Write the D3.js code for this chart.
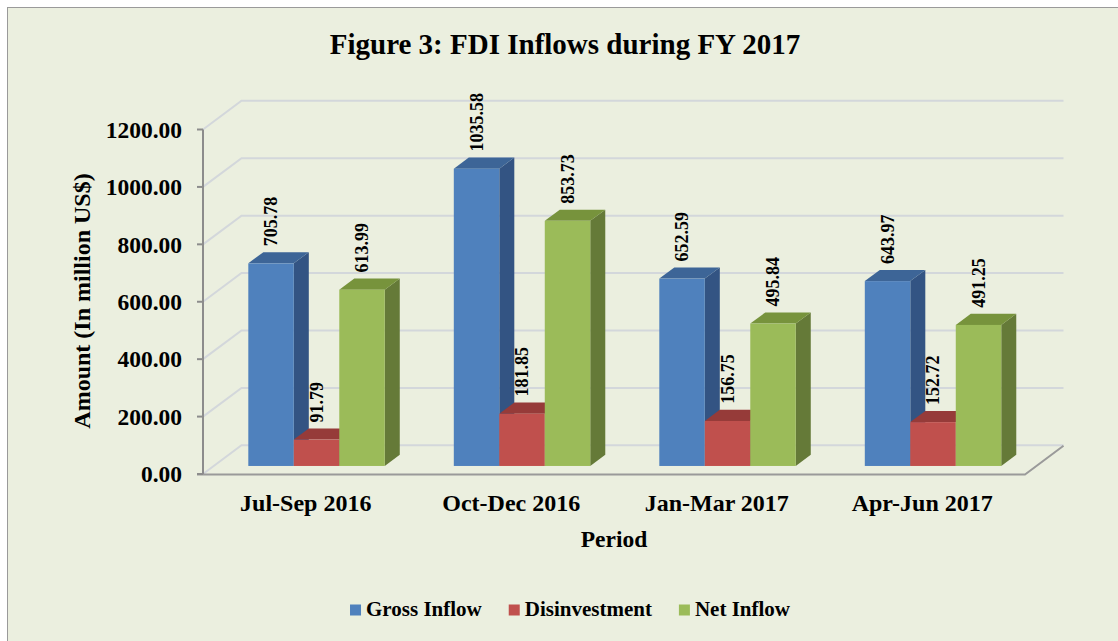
<!DOCTYPE html>
<html>
<head>
    <title>FDI Inflows during FY 2017</title>
    <script src="https://d3js.org/d3.v7.min.js"></script>
    <style>
        body {
            margin: 0;
            background: #ffffff;
        }
        svg text {
            font-family: "Liberation Serif", "Times New Roman", serif;
            font-weight: bold;
            fill: #000;
        }
    </style>
</head>
<body>
    <div id="chart"></div>
    <script>
        // Data
        const categories = ["Jul-Sep 2016", "Oct-Dec 2016", "Jan-Mar 2017", "Apr-Jun 2017"];
        const seriesNames = ["Gross Inflow", "Disinvestment", "Net Inflow"];
        const grossInflow = [705.78, 1035.58, 652.59, 643.97];
        const disinvestment = [91.79, 181.85, 156.75, 152.72];
        const netInflow = [613.99, 853.73, 495.84, 491.25];
        const yTicks = [0, 200, 400, 600, 800, 1000, 1200];

        const seriesValues = [grossInflow, disinvestment, netInflow];
        // front, top, side shades per series
        const shades = [
            { front: "#4f81bd", top: "#3d6597", side: "#335483" },
            { front: "#c0504d", top: "#963b39", side: "#7f3230" },
            { front: "#9bbb59", top: "#77933c", side: "#657a38" }
        ];

        const W = 1118, H = 641;
        const svg = d3.select("#chart")
            .append("svg")
            .attr("width", W)
            .attr("height", H);

        // background + frame (frame runs off the right/bottom edge)
        svg.append("rect")
            .attr("x", 0).attr("y", 0).attr("width", W).attr("height", H)
            .attr("fill", "#ffffff");
        svg.append("rect")
            .attr("x", 7.5).attr("y", 7.5).attr("width", W + 20).attr("height", H + 20)
            .attr("fill", "#ebefdf")
            .attr("stroke", "#9a9a9a")
            .attr("stroke-width", 1);

        // plot geometry (oblique 3D)
        const left = 203, right = 1025;
        const depthX = 38.5, depthY = -28.7;
        const y = d3.scaleLinear().domain([0, 1200]).range([474, 129.5]);

        const x = d3.scaleBand()
            .domain(categories)
            .range([left, right])
            .paddingInner(0.336)
            .paddingOuter(0.168);
        const xs = d3.scaleBand()
            .domain(seriesNames)
            .range([0, x.bandwidth()]);

        // bars sit between these depth fractions
        const d0 = 0.28, d1 = 0.67;

        // gridlines on side and back walls
        const grid = svg.append("g");
        yTicks.forEach(t => {
            const y0 = y(t);
            grid.append("polyline")
                .attr("points", [
                    [left, y0],
                    [left + depthX, y0 + depthY],
                    [right + depthX, y0 + depthY]
                ].map(p => p.join(",")).join(" "))
                .attr("fill", "none")
                .attr("stroke", "#d3d7db")
                .attr("stroke-width", 2);
        });

        // floor edges
        svg.append("polyline")
            .attr("points", [
                [left - 6, y(0) + 0.5],
                [right, y(0) + 0.5],
                [right + depthX, y(0) + 0.5 + depthY]
            ].map(p => p.join(",")).join(" "))
            .attr("fill", "none")
            .attr("stroke", "#9a9a9a")
            .attr("stroke-width", 2);

        // y axis
        svg.append("line")
            .attr("x1", left).attr("x2", left)
            .attr("y1", y(1200)).attr("y2", y(0))
            .attr("stroke", "#8c8c8c")
            .attr("stroke-width", 2);

        const yAxis = svg.append("g");
        yTicks.forEach(t => {
            yAxis.append("line")
                .attr("x1", left - 6).attr("x2", left)
                .attr("y1", y(t)).attr("y2", y(t))
                .attr("stroke", "#8c8c8c")
                .attr("stroke-width", 2);
            yAxis.append("text")
                .attr("x", 182)
                .attr("y", y(t))
                .attr("dy", "0.35em")
                .attr("text-anchor", "end")
                .style("font-size", "23.5px")
                .text(d3.format(".2f")(t));
        });

        // bars
        const bars = svg.append("g");
        const labels = svg.append("g");
        categories.forEach((cat, ci) => {
            seriesNames.forEach((s, si) => {
                const v = seriesValues[si][ci];
                const c = shades[si];
                const fx0 = x(cat) + xs(s) + d0 * depthX;
                const fx1 = fx0 + xs.bandwidth();
                const fyb = y(0) + d0 * depthY;
                const fyt = y(v) + d0 * depthY;
                const ddx = (d1 - d0) * depthX, ddy = (d1 - d0) * depthY;

                // side face
                bars.append("polygon")
                    .attr("points", [
                        [fx1, fyb], [fx1, fyt], [fx1 + ddx, fyt + ddy], [fx1 + ddx, fyb + ddy]
                    ].map(p => p.join(",")).join(" "))
                    .attr("fill", c.side);
                // top face
                bars.append("polygon")
                    .attr("points", [
                        [fx0, fyt], [fx1, fyt], [fx1 + ddx, fyt + ddy], [fx0 + ddx, fyt + ddy]
                    ].map(p => p.join(",")).join(" "))
                    .attr("fill", c.top);
                // front face
                bars.append("rect")
                    .attr("x", fx0)
                    .attr("y", fyt)
                    .attr("width", xs.bandwidth())
                    .attr("height", fyb - fyt)
                    .attr("fill", c.front);

                // value label, rotated
                const lx = (fx0 + fx1) / 2 + 6;
                const ly = fyt + ddy - 6;
                labels.append("text")
                    .attr("transform", `translate(${lx},${ly}) rotate(-90)`)
                    .attr("text-anchor", "start")
                    .style("font-size", "18px")
                    .text(d3.format(".2f")(v));
            });
        });

        // category labels
        categories.forEach(cat => {
            svg.append("text")
                .attr("x", x(cat) + x.bandwidth() / 2)
                .attr("y", 510.5)
                .attr("text-anchor", "middle")
                .style("font-size", "24px")
                .text(cat);
        });

        // axis titles
        svg.append("text")
            .attr("x", (left + right) / 2)
            .attr("y", 547)
            .attr("text-anchor", "middle")
            .style("font-size", "23.5px")
            .text("Period");

        svg.append("text")
            .attr("transform", "translate(90,301) rotate(-90)")
            .attr("text-anchor", "middle")
            .style("font-size", "24px")
            .text("Amount (In million US$)");

        // title
        svg.append("text")
            .attr("x", 565)
            .attr("y", 54)
            .attr("text-anchor", "middle")
            .style("font-size", "29px")
            .text("Figure 3: FDI Inflows during FY 2017");

        // legend
        const legend = svg.append("g");
        const items = seriesNames.map((s, i) => {
            const g = legend.append("g");
            g.append("rect")
                .attr("x", 0).attr("y", -11)
                .attr("width", 11).attr("height", 11)
                .attr("fill", shades[i].front);
            const t = g.append("text")
                .attr("x", 16).attr("y", 0)
                .style("font-size", "21px")
                .text(s);
            return { g, w: 16 + t.node().getComputedTextLength() };
        });
        const gap = 27;
        const total = d3.sum(items, d => d.w) + gap * (items.length - 1);
        let cx = 570 - total / 2;
        items.forEach(it => {
            it.g.attr("transform", `translate(${cx},615.5)`);
            cx += it.w + gap;
        });
    </script>
</body>
</html>
